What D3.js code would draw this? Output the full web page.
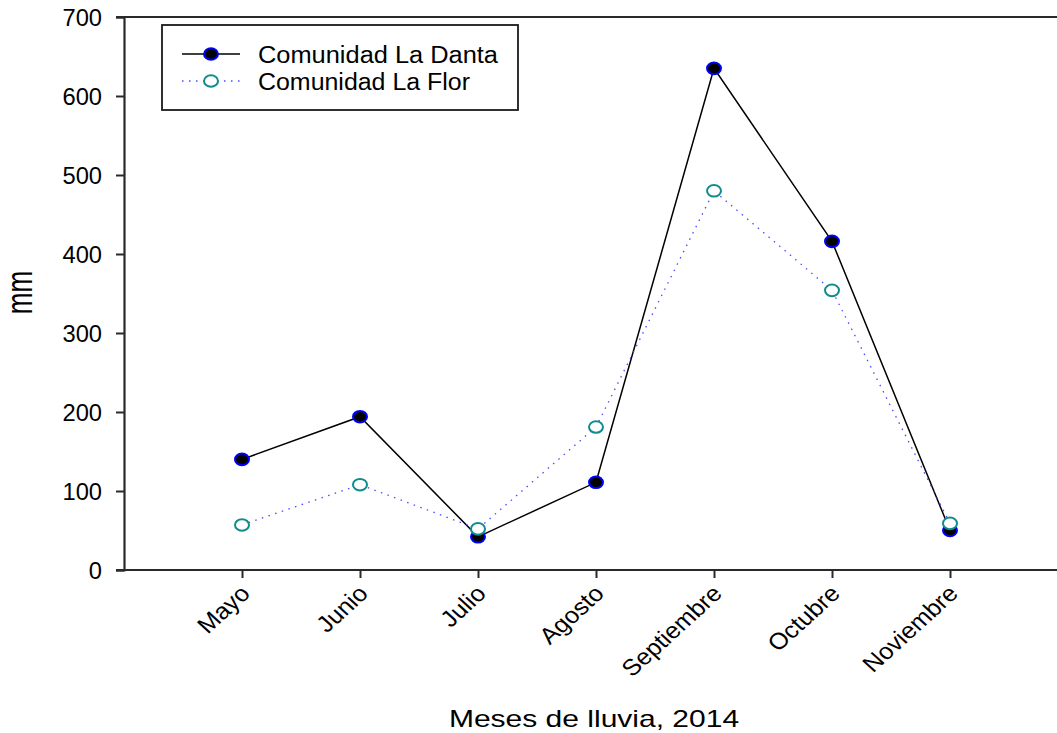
<!DOCTYPE html>
<html>
<head>
<meta charset="utf-8">
<script src="https://cdn.jsdelivr.net/npm/d3@7"></script>
<style>
  html, body { margin: 0; padding: 0; background: #fff; }
  svg { display: block; font-family: "Liberation Sans", Arial, sans-serif; }
</style>
</head>
<body>
<svg id="chart" width="1057" height="733"></svg>
<script>
// ---- data ----
const months = ["Mayo", "Junio", "Julio", "Agosto", "Septiembre", "Octubre", "Noviembre"];
const laDanta = [140, 194, 42, 111, 635, 416, 50];
const laFlor = [57, 108, 52, 181, 480, 354, 59];
const yTicks = [0, 100, 200, 300, 400, 500, 600, 700];
const seriesNames = ["Comunidad La Danta", "Comunidad La Flor"];
const xTitle = "Meses de lluvia, 2014";
const yTitle = "mm";

// ---- layout ----
const svg = d3.select("#chart");
const pL = 124, pR = 1068, pT = 17, pB = 570;
const x = d3.scaleLinear().domain([0, months.length + 1]).range([pL, pR]);
const y = d3.scaleLinear().domain([0, 700]).range([pB, pT]);
const axisColor = "#2a2a2a";
const fontFam = "Liberation Sans, Arial, sans-serif";

function fitWidth(sel, k) {
  sel.each(function () {
    const w = this.getComputedTextLength();
    d3.select(this).attr("textLength", w * k).attr("lengthAdjust", "spacingAndGlyphs");
  });
}

// frame: top line
svg.append("line").attr("x1", pL - 8).attr("x2", pR).attr("y1", pT).attr("y2", pT)
  .attr("stroke", axisColor).attr("stroke-width", 2);

// y axis
const yAxis = svg.append("g").attr("transform", `translate(${pL},0)`)
  .call(d3.axisLeft(y).tickValues(yTicks).tickSize(8).tickPadding(14).tickFormat(d3.format("d")));
yAxis.select(".domain").attr("stroke", axisColor).attr("stroke-width", 2.2);
yAxis.selectAll(".tick line").attr("stroke", axisColor).attr("stroke-width", 2);
yAxis.selectAll(".tick text").attr("font-size", 23).attr("fill", "#000")
  .attr("font-family", fontFam).attr("dy", "0.36em");
fitWidth(yAxis.selectAll(".tick text"), 1.03);

// x axis
const xAxis = svg.append("g").attr("transform", `translate(0,${pB})`)
  .call(d3.axisBottom(x).tickValues(months.map((m, i) => i + 1)).tickSize(8)
    .tickFormat(d => months[d - 1]));
xAxis.select(".domain").attr("stroke", axisColor).attr("stroke-width", 2.2)
  .attr("d", `M${pL - 8},0H${pR}`);
xAxis.selectAll(".tick line").attr("stroke", axisColor).attr("stroke-width", 2);
xAxis.selectAll(".tick text")
  .attr("font-size", 23).attr("fill", "#000").attr("font-family", fontFam)
  .attr("text-anchor", "end").attr("y", 0).attr("dy", 0)
  .attr("transform", "translate(9,25) scale(1.1,1) rotate(-45)");

// axis titles
svg.append("text").attr("x", (pL + pR) / 2 - 2).attr("y", 727)
  .attr("text-anchor", "middle").attr("font-size", 24).attr("fill", "#000")
  .text(xTitle).call(fitWidth, 1.25);

svg.append("text").attr("transform", "translate(32,292.5) scale(1.4,1) rotate(-90)")
  .attr("text-anchor", "middle").attr("font-size", 26).attr("fill", "#000")
  .text(yTitle);

// lines & markers
const line = d3.line().x((d, i) => x(i + 1)).y(d => y(d));

svg.append("path").datum(laDanta).attr("d", line)
  .attr("fill", "none").attr("stroke", "#000").attr("stroke-width", 1.5);
svg.append("g").selectAll("ellipse").data(laDanta).join("ellipse")
  .attr("cx", (d, i) => x(i + 1)).attr("cy", d => y(d))
  .attr("rx", 7).attr("ry", 5.8)
  .attr("fill", "#000").attr("stroke", "#0000ff").attr("stroke-width", 2);

svg.append("path").datum(laFlor).attr("d", line)
  .attr("fill", "none").attr("stroke", "#4a4aff").attr("stroke-width", 1.3)
  .attr("stroke-dasharray", "1.5,5.5");
svg.append("g").selectAll("ellipse").data(laFlor).join("ellipse")
  .attr("cx", (d, i) => x(i + 1)).attr("cy", d => y(d))
  .attr("rx", 7).attr("ry", 5.8)
  .attr("fill", "#fff").attr("stroke", "#118c8c").attr("stroke-width", 2);

// legend
const lg = svg.append("g");
lg.append("rect").attr("x", 162).attr("y", 25).attr("width", 356).attr("height", 85)
  .attr("fill", "#fff").attr("stroke", "#1a1a1a").attr("stroke-width", 1.8);
const rows = [54, 81];
const widths = [240, 212];
// row 1
lg.append("line").attr("x1", 182).attr("x2", 240).attr("y1", rows[0]).attr("y2", rows[0])
  .attr("stroke", "#000").attr("stroke-width", 1.5);
lg.append("ellipse").attr("cx", 211).attr("cy", rows[0]).attr("rx", 7).attr("ry", 5.8)
  .attr("fill", "#000").attr("stroke", "#0000ff").attr("stroke-width", 2);
// row 2
lg.append("line").attr("x1", 182).attr("x2", 240).attr("y1", rows[1]).attr("y2", rows[1])
  .attr("stroke", "#4a4aff").attr("stroke-width", 1.3).attr("stroke-dasharray", "1.5,5.5");
lg.append("ellipse").attr("cx", 211).attr("cy", rows[1]).attr("rx", 7).attr("ry", 5.8)
  .attr("fill", "#fff").attr("stroke", "#118c8c").attr("stroke-width", 2);
seriesNames.forEach((n, i) => {
  lg.append("text").attr("x", 258).attr("y", rows[i] + 8.5).attr("font-size", 23).attr("fill", "#000")
    .attr("font-family", fontFam)
    .text(n).attr("textLength", widths[i]).attr("lengthAdjust", "spacingAndGlyphs");
});
</script>
</body>
</html>
